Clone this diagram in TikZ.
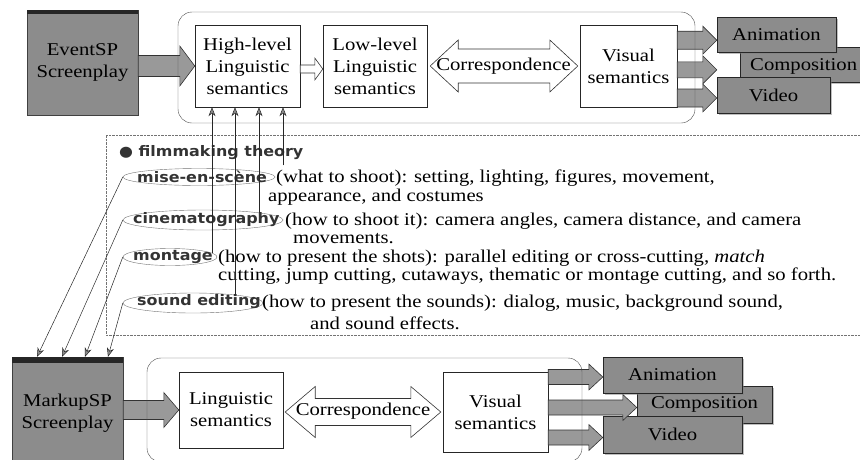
\documentclass[tikz,border=0pt]{standalone}
\usepackage{fontspec}
\setmainfont[FakeStretch=1.15]{Liberation Serif}
\newfontfamily\labelfont[FakeStretch=1.1]{DejaVu Sans}
\usetikzlibrary{calc,arrows.meta,shapes.geometric,shadows}

% fat arrow: [style]{from}{tip}{shaft half}{head half}{head length}
\newcommand{\fatarrow}[6][]{%
  \draw[fat,#1] let \p1=#2, \p2=#3 in
    ({\x1},{\y2+#4pt}) -- ({\x2-#6pt},{\y2+#4pt}) -- ({\x2-#6pt},{\y2+#5pt})
    -- (\p2) -- ({\x2-#6pt},{\y2-#5pt}) -- ({\x2-#6pt},{\y2-#4pt})
    -- ({\x1},{\y2-#4pt}) -- cycle;}
% double arrow, same arguments
\newcommand{\dblarrow}[6][]{%
  \draw[fat,#1] let \p1=#2, \p2=#3 in
    ({\x1},{\y2}) -- ({\x1+#6pt},{\y2+#5pt}) -- ({\x1+#6pt},{\y2+#4pt})
    -- ({\x2-#6pt},{\y2+#4pt}) -- ({\x2-#6pt},{\y2+#5pt}) -- (\p2)
    -- ({\x2-#6pt},{\y2-#5pt}) -- ({\x2-#6pt},{\y2-#4pt})
    -- ({\x1+#6pt},{\y2-#4pt}) -- ({\x1+#6pt},{\y2-#5pt}) -- cycle;}

\begin{document}
\begin{tikzpicture}[x=1pt,y=-1pt,
  box/.style={draw=black!85, fill=white, thin, inner sep=0pt, align=center,
    font=\fontsize{18}{22}\selectfont,
    drop shadow={shadow xshift=1.2pt, shadow yshift=-1.2pt}},
  darkbox/.style={draw=black!75, fill=black!45, thin, inner sep=0pt, align=center,
    font=\fontsize{18}{22}\selectfont},
  outbox/.style={draw=black!85, fill=black!45, thin, inner sep=0pt,
    font=\fontsize{18}{22}\selectfont,
    drop shadow={shadow xshift=1.5pt, shadow yshift=-1.5pt}},
  frame/.style={draw=black!70, rounded corners=14pt, thin},
  fat/.style={draw=black!80, fill=black!40, line width=0.6pt, line join=miter},
  oval/.style={ellipse, draw=black!55, thin, inner sep=0pt},
  tlabel/.style={anchor=west, inner sep=0pt, text=black!80,
    font=\labelfont\bfseries\fontsize{14.5}{16}\selectfont},
  theory/.style={anchor=west, inner sep=0pt, font=\fontsize{18}{18}\selectfont},
  thinarr/.style={draw=black!85, line width=0.5pt,
    -{Stealth[length=9pt,width=7pt,fill=black!45]}}
]
  \useasboundingbox (0,0) rectangle (860,459);

  % filmmaking theory panel
  \draw[black!55, densely dotted] (875,135) -- (106,135) -- (106,335) -- (875,335);
  \node[tlabel] (title) at (119,153) {● filmmaking theory};
  \node[oval, minimum width=152, minimum height=17] (miseo) at (199,177) {};
  \node[oval, minimum width=160, minimum height=20] (cinemao) at (203,220) {};
  \node[oval, minimum width=94, minimum height=17] (montageo) at (170,257) {};
  \node[oval, minimum width=140, minimum height=20] (soundo) at (193,303) {};
  \node[tlabel] (mise) at (137,177) {mise-en-scène};
  \node[tlabel] (cinema) at (133,220) {cinematography};
  \node[tlabel] (montage) at (133,257) {montage};
  \node[tlabel] (sound) at (137,302) {sound editing};
  \node[theory] at (276,178) {(what to shoot): setting, lighting, figures, movement,};
  \node[theory] at (268,197) {appearance, and costumes};
  \node[theory] at (285,221) {(how to shoot it): camera angles, camera distance, and camera};
  \node[theory] at (293,239) {movements.};
  \node[theory] at (218,258) {(how to present the shots): parallel editing or cross-cutting, \textit{match}};
  \node[theory] at (218,276) {cutting, jump cutting, cutaways, thematic or montage cutting, and so forth.};
  \node[theory] at (262,303) {(how to present the sounds): dialog, music, background sound,};
  \node[theory] at (310,323) {and sound effects.};

  % EventSP pipeline
  \node[darkbox, minimum width=111, minimum height=105] (event) at (82.5,62.5) {EventSP\\Screenplay};
  \fill[black!85] (event.north west) rectangle ($(event.north east)+(0,4)$);
  \node[box, minimum width=105, minimum height=82] (hl) at (247.5,66) {High-level\\Linguistic\\semantics};
  \node[box, minimum width=104, minimum height=82] (ll) at (375,66) {Low-level\\Linguistic\\semantics};
  \node[box, minimum width=97, minimum height=82] (vis) at (628.5,66) {Visual\\semantics};
  \node[outbox, minimum width=130, minimum height=35, anchor=west] (comp) at (740,64.5) {};
  \node[outbox, minimum width=119, minimum height=35] (ani) at (776.5,34.5) {Animation};
  \node[outbox, minimum width=113, minimum height=36] (vid) at (773.5,95) {Video};
  \node[inner sep=0pt, font=\fontsize{18}{22}\selectfont, anchor=west] at (750,66) {Composition};

  \fatarrow{(event.east)}{(hl.west)}{10.5}{20}{15}
  \fatarrow[fill=white]{(hl.east)}{($(ll.west)+(0,3)$)}{4}{11}{8}
  \dblarrow[fill=white]{($(ll.east)+(3,0)$)}{($(vis.west)+(-2,0)$)}{17}{26}{28}
  \node[inner sep=0pt, font=\fontsize{18}{22}\selectfont] (corr) at ($(ll.east)!0.5!(vis.west)$) {Correspondence};
  \fatarrow{(vis.east)}{($(ani.south west)+(0,-12)$)}{9}{14}{14}
  \fatarrow{(vis.east)}{($(vid.north west)+(0,-7)$)}{8}{14}{14}
  \fatarrow{(vis.east)}{($(vid.west)+(0,3)$)}{9}{14}{14}
  \draw[frame] (178,12) rectangle (695,123);

  % MarkupSP pipeline
  \node[darkbox, minimum width=111, minimum height=113] (markup) at (67.5,413.5) {MarkupSP\\Screenplay};
  \fill[black!85] (markup.north west) rectangle ($(markup.north east)+(0,6)$);
  \node[box, minimum width=104, minimum height=76] (ling) at (231,410) {Linguistic\\semantics};
  \node[box, minimum width=105, minimum height=80] (vis2) at (495.5,412) {Visual\\semantics};
  \node[outbox, minimum width=135, minimum height=37] (comp2) at (704.5,404.5) {Composition};
  \node[outbox, minimum width=139, minimum height=36] (ani2) at (672.5,375) {Animation};
  \node[outbox, minimum width=139, minimum height=37] (vid2) at (672.5,434.5) {Video};

  \fatarrow{(markup.east)}{(ling.west)}{9.5}{17.5}{15}
  \dblarrow[fill=white]{($(ling.east)+(2,0)$)}{($(vis2.west)+(-2,0)$)}{13.5}{25.5}{30}
  \node[inner sep=0pt, font=\fontsize{18}{22}\selectfont] (corr2) at ($(ling.east)!0.5!(vis2.west)$) {Correspondence};
  \fatarrow{(vis2.east)}{($(ani2.west)+(0,2)$)}{7.5}{13}{14}
  \fatarrow{(vis2.east)}{($(comp2.west)+(0,3)$)}{7.5}{13}{14}
  \fatarrow{(vis2.east)}{($(vid2.west)+(0,3)$)}{7.5}{13}{14}
  \draw[frame] (147,358) rectangle (582,462);

  % theory into the pipelines
  \foreach \e/\dx/\dy in {montageo/-35.5/4.5, soundo/-12.5/2, cinemao/11.5/3, miseo/35.5/-3} {
    \coordinate (u) at ($(hl.south)+(\dx,0)$);
    \draw[thinarr] ($(u |- \e.north)+(0,\dy)$) -- (u);
  }
  \foreach \e/\dx in {miseo/-30.5, cinemao/-5.5, montageo/17.5, soundo/40.5}
    \draw[thinarr] (\e.west) -- ($(markup.north)+(\dx,0)$);
\end{tikzpicture}
\end{document}
